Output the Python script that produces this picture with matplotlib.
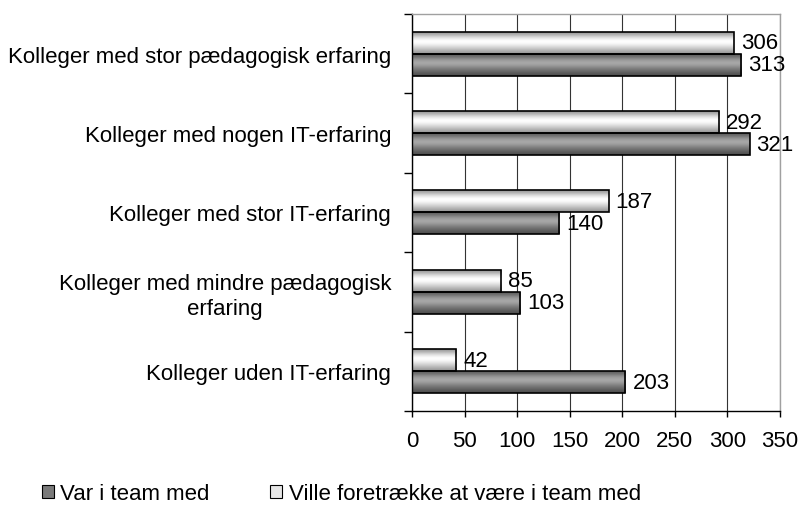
import numpy as np
import matplotlib
matplotlib.use('Agg')
import matplotlib.pyplot as plt
from matplotlib.patches import Patch

plt.rcParams['font.family'] = ['Liberation Sans', 'DejaVu Sans']

# data (top -> bottom)
categories = ['Kolleger med stor pædagogisk erfaring',
              'Kolleger med nogen IT-erfaring',
              'Kolleger med stor IT-erfaring',
              'Kolleger med mindre pædagogisk\nerfaring',
              'Kolleger uden IT-erfaring']
var_i_team = [313, 321, 140, 103, 203]
ville_foretraekke = [306, 292, 187, 85, 42]
x_ticks = [0, 50, 100, 150, 200, 250, 300, 350]

label_var = 'Var i team med'
label_ville = 'Ville foretrække at være i team med'

# gradient profiles, top -> bottom of a bar (grey levels 0..1)
LIGHT = np.array([0.62, 0.72, 0.84, 0.94, 1.0, 0.98, 0.92, 0.84, 0.76, 0.68, 0.6])
DARK = np.array([0.38, 0.46, 0.56, 0.63, 0.66, 0.62, 0.55, 0.48, 0.42, 0.36, 0.32])

FS = 16
bh = 0.277

fig = plt.figure(figsize=(8, 5.1), dpi=100)
ax = fig.add_axes([0.515, 0.1922, 0.46, 0.7784])

y = np.arange(len(categories))
bars_light = ax.barh(y - bh / 2, ville_foretraekke, height=bh, facecolor='none',
                     edgecolor='black', linewidth=1.2, zorder=3)
bars_dark = ax.barh(y + bh / 2, var_i_team, height=bh, facecolor='none',
                    edgecolor='black', linewidth=1.2, zorder=3)


def shade(bars, profile):
    for b in bars:
        x0, y0, w, h = b.get_x(), b.get_y(), b.get_width(), b.get_height()
        ax.imshow(profile[:, None], cmap='gray', vmin=0, vmax=1, aspect='auto',
                  interpolation='bilinear', extent=[x0, x0 + w, y0 + h, y0],
                  origin='upper', zorder=2.5)


shade(bars_light, LIGHT)
shade(bars_dark, DARK)

for bars, vals in ((bars_light, ville_foretraekke), (bars_dark, var_i_team)):
    for b, v in zip(bars, vals):
        ax.annotate(str(v), (b.get_width(), b.get_y() + b.get_height() / 2),
                    xytext=(5, 0), textcoords='offset points',
                    ha='left', va='center', fontsize=FS, zorder=4)

ax.set_xlim(0, 350)
ax.set_ylim(len(categories) - 0.5, -0.5)
ax.set_xticks(x_ticks)
ax.tick_params(axis='x', direction='out', length=4.5, width=1, pad=9,
               labelsize=FS, color='black')
ax.set_yticks(y)
ax.set_yticklabels(categories, fontsize=FS, multialignment='center', linespacing=1.2)
ax.set_yticks(np.arange(-0.5, len(categories)), minor=True)
ax.tick_params(axis='y', which='major', length=0, pad=15)
ax.tick_params(axis='y', which='minor', direction='out', length=5.5, width=1)

ax.grid(axis='x', color='#333333', linewidth=0.8)
ax.set_axisbelow(True)
for s in ('left', 'bottom'):
    ax.spines[s].set_color('black')
    ax.spines[s].set_linewidth(1)
for s in ('top', 'right'):
    ax.spines[s].set_color('#a0a0a0')
    ax.spines[s].set_linewidth(1)

handles = [Patch(facecolor='#7a7a7a', edgecolor='black', linewidth=0.8, label=label_var),
           Patch(facecolor='#e6e6e6', edgecolor='black', linewidth=0.8, label=label_ville)]
fig.legend(handles=handles, ncol=2, loc='center left', bbox_to_anchor=(0.027, 0.03),
           frameon=False, fontsize=FS, handlelength=0.55, handleheight=0.55,
           handletextpad=0.3, columnspacing=2.7)

fig.savefig('out.png', dpi=100)
